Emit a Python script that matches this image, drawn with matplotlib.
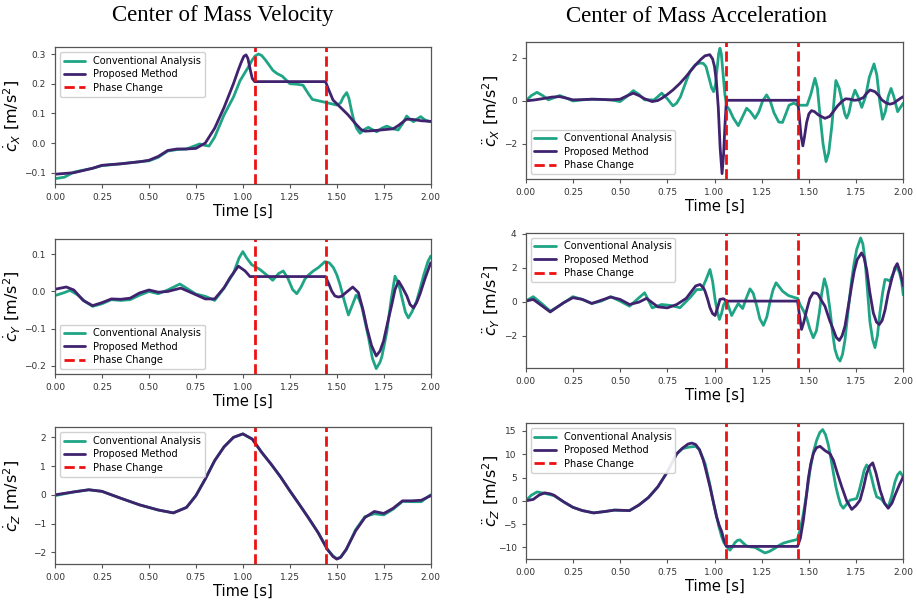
import matplotlib
matplotlib.use("Agg")
import matplotlib.pyplot as plt

# ---------------- data ----------------
phase_changes = [1.063, 1.44]
xticks = [0.0, 0.25, 0.5, 0.75, 1.0, 1.25, 1.5, 1.75, 2.0]

# Velocity X
vx_conv_t = [0, 0.05, 0.1, 0.2, 0.25, 0.35, 0.45, 0.5, 0.55, 0.6, 0.65, 0.7, 0.75, 0.77, 0.8, 0.82, 0.85, 0.9,
             0.95, 0.985, 1.03, 1.05, 1.065, 1.083, 1.1, 1.12, 1.16, 1.18, 1.21, 1.25, 1.29, 1.32, 1.35, 1.37,
             1.44, 1.5, 1.52, 1.535, 1.553, 1.565, 1.578, 1.59, 1.605, 1.624, 1.645, 1.668, 1.69, 1.713, 1.74,
             1.766, 1.8, 1.827, 1.85, 1.872, 1.89, 1.908, 1.93, 1.947, 1.965, 1.98, 2.0]
vx_conv = [-0.12, -0.115, -0.098, -0.085, -0.076, -0.070, -0.063, -0.060, -0.048, -0.027, -0.022, -0.020, -0.008,
           -0.003, -0.008, -0.010, 0.020, 0.095, 0.155, 0.21, 0.257, 0.28, 0.293, 0.300, 0.295, 0.280, 0.245,
           0.235, 0.225, 0.200, 0.198, 0.195, 0.165, 0.147, 0.137, 0.128, 0.135, 0.155, 0.170, 0.150, 0.110,
           0.078, 0.050, 0.033, 0.045, 0.053, 0.045, 0.038, 0.050, 0.057, 0.048, 0.044, 0.065, 0.091, 0.080,
           0.072, 0.082, 0.089, 0.080, 0.075, 0.072]
vx_prop_t = [0, 0.1, 0.2, 0.25, 0.35, 0.45, 0.5, 0.55, 0.6, 0.65, 0.7, 0.75, 0.8, 0.85, 0.9, 0.95, 0.975, 0.99,
             1.005, 1.017, 1.027, 1.04, 1.05, 1.063, 1.44, 1.46, 1.48, 1.52, 1.56, 1.6, 1.63, 1.65, 1.7, 1.75,
             1.8, 1.83, 1.87, 1.9, 1.95, 2.0]
vx_prop = [-0.105, -0.100, -0.085, -0.075, -0.070, -0.063, -0.058, -0.045, -0.025, -0.020, -0.020, -0.018, 0.000,
           0.050, 0.120, 0.200, 0.245, 0.270, 0.292, 0.297, 0.285, 0.245, 0.218, 0.207, 0.207, 0.175, 0.145,
           0.120, 0.095, 0.065, 0.045, 0.040, 0.042, 0.045, 0.048, 0.060, 0.080, 0.080, 0.075, 0.073]

# Velocity Y
vy_conv_t = [0, 0.05, 0.08, 0.12, 0.16, 0.2, 0.25, 0.3, 0.35, 0.4, 0.45, 0.5, 0.55, 0.6, 0.665, 0.7, 0.75, 0.8,
             0.85, 0.9, 0.95, 0.98, 1.0, 1.02, 1.047, 1.091, 1.125, 1.159, 1.19, 1.215, 1.24, 1.265, 1.287, 1.31,
             1.33, 1.349, 1.375, 1.402, 1.437, 1.46, 1.482, 1.5, 1.517, 1.54, 1.562, 1.58, 1.603, 1.618, 1.633,
             1.65, 1.669, 1.69, 1.71, 1.73, 1.74, 1.766, 1.79, 1.81, 1.83, 1.846, 1.865, 1.881, 1.9, 1.925,
             1.945, 1.964, 1.985, 2.0]
vy_conv = [-0.011, -0.003, 0.003, -0.009, -0.027, -0.040, -0.033, -0.022, -0.024, -0.022, -0.010, 0.000, -0.006,
           0.004, 0.020, 0.009, -0.007, -0.013, -0.024, 0.009, 0.049, 0.090, 0.107, 0.090, 0.072, 0.059, 0.045,
           0.030, 0.048, 0.055, 0.035, 0.005, -0.006, 0.012, 0.033, 0.044, 0.055, 0.064, 0.080, 0.077, 0.064,
           0.045, 0.019, -0.025, -0.063, -0.040, -0.010, -0.020, -0.040, -0.080, -0.124, -0.180, -0.207, -0.190,
           -0.175, -0.110, -0.020, 0.041, 0.020, -0.015, -0.055, -0.071, -0.055, -0.026, 0.010, 0.046, 0.080,
           0.095]
vy_prop_t = [0, 0.06, 0.1, 0.15, 0.2, 0.25, 0.3, 0.35, 0.4, 0.45, 0.5, 0.55, 0.6, 0.67, 0.72, 0.8, 0.85, 0.9,
             0.932, 0.976, 1.012, 1.038, 1.063, 1.44, 1.458, 1.473, 1.49, 1.508, 1.525, 1.544, 1.585, 1.615,
             1.64, 1.66, 1.685, 1.71, 1.73, 1.749, 1.77, 1.793, 1.81, 1.829, 1.85, 1.873, 1.89, 1.908, 1.925,
             1.943, 1.97, 2.0]
vy_prop = [0.006, 0.012, 0.004, -0.024, -0.038, -0.030, -0.020, -0.021, -0.018, -0.004, 0.004, -0.002, 0.000,
           0.009, -0.002, -0.020, -0.020, 0.010, 0.037, 0.068, 0.055, 0.040, 0.040, 0.040, 0.020, 0.001, -0.012,
           -0.015, -0.013, -0.005, 0.012, -0.003, -0.050, -0.097, -0.145, -0.173, -0.160, -0.133, -0.085,
           -0.035, 0.005, 0.028, 0.010, -0.012, -0.035, -0.044, -0.030, -0.007, 0.035, 0.077]

# Velocity Z
vz_t = [0, 0.1, 0.18, 0.25, 0.35, 0.45, 0.55, 0.63, 0.7, 0.75, 0.8, 0.85, 0.9, 0.95, 1.0, 1.05, 1.1, 1.15, 1.2,
        1.25, 1.3, 1.35, 1.4, 1.45, 1.48, 1.5, 1.52, 1.55, 1.6, 1.65, 1.7, 1.75, 1.8, 1.85, 1.9, 1.95, 2.0]
vz_conv = [-0.03, 0.10, 0.175, 0.12, -0.12, -0.35, -0.53, -0.63, -0.44, -0.03, 0.55, 1.19, 1.67, 2.0, 2.12, 1.94,
           1.48, 1.07, 0.63, 0.14, -0.33, -0.81, -1.31, -1.90, -2.13, -2.22, -2.18, -1.92, -1.22, -0.76, -0.66,
           -0.70, -0.50, -0.23, -0.24, -0.24, 0.00]
vz_prop = [0.0, 0.10, 0.175, 0.12, -0.12, -0.35, -0.53, -0.63, -0.44, -0.03, 0.55, 1.19, 1.67, 2.0, 2.12, 1.94,
           1.48, 1.07, 0.63, 0.14, -0.33, -0.81, -1.31, -1.90, -2.15, -2.24, -2.18, -1.90, -1.26, -0.79, -0.58,
           -0.65, -0.47, -0.21, -0.21, -0.19, -0.03]

# Acceleration X
ax_conv_t = [0, 0.03, 0.06, 0.09, 0.12, 0.15, 0.18, 0.21, 0.25, 0.3, 0.35, 0.4, 0.45, 0.5, 0.535, 0.57, 0.6, 0.63,
             0.68, 0.7, 0.72, 0.75, 0.78, 0.8, 0.82, 0.845, 0.87, 0.897, 0.92, 0.94, 0.955, 0.97, 0.985, 0.995,
             1.005, 1.015, 1.022, 1.029, 1.036, 1.045, 1.055, 1.065, 1.08, 1.1, 1.126, 1.145, 1.17, 1.19, 1.215,
             1.235, 1.255, 1.276, 1.295, 1.315, 1.34, 1.36, 1.38, 1.395, 1.42, 1.44, 1.46, 1.49, 1.51, 1.532,
             1.545, 1.558, 1.575, 1.591, 1.605, 1.621, 1.632, 1.643, 1.66, 1.675, 1.69, 1.7, 1.712, 1.725, 1.744,
             1.76, 1.78, 1.8, 1.82, 1.845, 1.86, 1.875, 1.89, 1.905, 1.92, 1.935, 1.95, 1.97, 1.985, 2.0]
ax_conv = [0.0, 0.25, 0.40, 0.25, 0.05, 0.15, 0.25, 0.15, 0.0, 0.05, 0.08, 0.07, 0.05, -0.03, 0.2, 0.48, 0.3, 0.05,
           0.05, 0.2, 0.36, 0.1, -0.23, -0.1, 0.2, 0.8, 1.37, 1.67, 1.76, 1.75, 1.6, 1.1, 0.6, 0.43, 0.75, 1.6,
           2.2, 2.45, 2.2, 1.3, 0.3, -0.25, -0.42, -0.8, -1.15, -0.8, -0.34, -0.5, -0.81, -0.5, 0.0, 0.28, 0.0,
           -0.55, -0.98, -1.0, -0.55, -0.2, -0.1, -0.2, -0.2, -0.2, 0.3, 1.05, 0.6, -0.6, -2.0, -2.82, -2.4,
           -1.2, -0.1, 0.95, 0.6, 0.0, -0.6, -0.8, -0.55, 0.0, 0.5, 0.2, -0.3, 0.2, 1.1, 1.72, 1.2, 0.0, -0.85,
           -0.5, 0.2, 0.58, 0.2, -0.5, -0.3, -0.1]
ax_prop_t = [0, 0.05, 0.1, 0.14, 0.18, 0.22, 0.25, 0.3, 0.35, 0.4, 0.45, 0.5, 0.54, 0.57, 0.6, 0.63, 0.67, 0.7,
             0.72, 0.75, 0.78, 0.815, 0.85, 0.9, 0.93, 0.95, 0.975, 0.99, 1.0, 1.01, 1.02, 1.03, 1.04, 1.048,
             1.055, 1.063, 1.44, 1.448, 1.458, 1.468, 1.476, 1.488, 1.5, 1.514, 1.53, 1.55, 1.585, 1.61, 1.629,
             1.65, 1.674, 1.695, 1.718, 1.74, 1.762, 1.789, 1.805, 1.824, 1.85, 1.87, 1.886, 1.91, 1.93, 1.95,
             1.965, 1.985, 2.0]
ax_prop = [0.0, 0.05, 0.12, 0.18, 0.2, 0.12, 0.05, 0.06, 0.08, 0.07, 0.05, 0.08, 0.25, 0.36, 0.25, 0.1, -0.03,
           0.02, 0.12, 0.3, 0.51, 0.8, 1.14, 1.68, 1.95, 2.1, 2.15, 1.95, 1.6, 0.9, -0.3, -2.2, -3.38, -2.5,
           -1.2, 0.03, 0.03, -0.6, -1.6, -2.09, -1.7, -1.0, -0.6, -0.45, -0.5, -0.65, -0.81, -0.72, -0.5, -0.25,
           -0.03, 0.1, 0.08, 0.03, 0.05, 0.16, 0.35, 0.51, 0.43, 0.25, 0.05, -0.1, -0.15, -0.1, 0.0, 0.12, 0.2]

# Acceleration Y
ay_conv_t = [0, 0.04, 0.08, 0.13, 0.18, 0.25, 0.3, 0.35, 0.4, 0.45, 0.5, 0.55, 0.58, 0.63, 0.67, 0.72, 0.77,
             0.817, 0.87, 0.906, 0.932, 0.955, 0.976, 0.99, 1.003, 1.015, 1.026, 1.037, 1.047, 1.057, 1.065,
             1.078, 1.091, 1.108, 1.126, 1.149, 1.168, 1.188, 1.205, 1.224, 1.24, 1.259, 1.277, 1.294, 1.31,
             1.326, 1.345, 1.361, 1.391, 1.426, 1.44, 1.453, 1.47, 1.488, 1.505, 1.523, 1.54, 1.555, 1.568,
             1.582, 1.596, 1.612, 1.625, 1.638, 1.652, 1.665, 1.678, 1.691, 1.708, 1.726, 1.74, 1.753, 1.774,
             1.786, 1.797, 1.81, 1.823, 1.837, 1.85, 1.863, 1.876, 1.89, 1.903, 1.915, 1.929, 1.948, 1.965,
             1.98, 1.991, 2.0]
ay_conv = [0.04, 0.3, -0.06, -0.55, -0.22, 0.3, 0.14, -0.1, 0.04, 0.3, 0.04, -0.26, 0.04, 0.53, -0.36, -0.16,
           -0.22, -0.35, 0.24, 0.72, 0.72, 1.3, 1.9, 1.2, 0.14, -0.6, -1.04, -0.7, -0.22, 0.0, 0.04, -0.4,
           -0.81, -0.45, -0.1, -0.4, 0.2, 0.76, 0.5, -0.26, -1.0, -1.39, -0.9, 0.0, 0.7, 1.12, 0.85, 0.62, 0.37,
           0.24, 0.2, -0.16, -0.5, -0.94, -1.6, -2.12, -1.7, -0.65, 0.5, 1.35, 0.8, -0.5, -1.8, -2.8, -3.3,
           -3.49, -3.1, -2.26, -0.5, 1.24, 2.3, 3.08, 3.76, 3.4, 2.49, 0.7, -1.16, -2.2, -2.7, -2.0, -0.65, 0.5,
           1.31, 1.3, 1.21, 1.7, 2.1, 1.7, 1.2, 0.4]
ay_prop_t = [0, 0.04, 0.13, 0.2, 0.25, 0.3, 0.35, 0.45, 0.5, 0.55, 0.6, 0.64, 0.7, 0.75, 0.8, 0.85, 0.9, 0.923,
             0.94, 0.95, 0.965, 0.976, 0.99, 1.003, 1.015, 1.029, 1.047, 1.065, 1.44, 1.45, 1.461, 1.473, 1.488,
             1.505, 1.523, 1.54, 1.549, 1.565, 1.585, 1.61, 1.629, 1.645, 1.661, 1.676, 1.691, 1.708, 1.726,
             1.74, 1.756, 1.779, 1.792, 1.806, 1.822, 1.841, 1.858, 1.873, 1.888, 1.903, 1.92, 1.938, 1.955,
             1.968, 1.985, 2.0]
ay_prop = [0.04, 0.14, -0.6, -0.06, 0.24, 0.14, -0.1, 0.28, 0.14, -0.16, -0.02, 0.2, -0.3, -0.36, -0.16, 0.2,
           0.93, 1.02, 0.85, 0.62, 0.1, -0.35, -0.7, -0.81, -0.4, 0.14, 0.18, 0.04, 0.04, -0.8, -1.63, -1.2,
           -0.5, 0.2, 0.53, 0.5, 0.43, 0.1, -0.26, -1.1, -1.63, -2.1, -2.28, -2.0, -1.44, -0.3, 0.92, 1.8, 2.49,
           2.88, 2.6, 1.9, 0.6, -0.65, -1.2, -1.34, -1.1, -0.5, 0.5, 1.31, 2.0, 2.25, 1.7, 0.92]

# Acceleration Z
az_conv_t = [0, 0.03, 0.06, 0.1, 0.15, 0.2, 0.25, 0.3, 0.36, 0.42, 0.47, 0.55, 0.6, 0.65, 0.7, 0.75, 0.8, 0.83,
             0.86, 0.9, 0.92, 0.95, 0.976, 0.995, 1.011, 1.025, 1.038, 1.05, 1.064, 1.082, 1.095, 1.108, 1.122,
             1.135, 1.15, 1.17, 1.19, 1.214, 1.24, 1.267, 1.29, 1.32, 1.345, 1.365, 1.39, 1.409, 1.439, 1.455,
             1.471, 1.49, 1.506, 1.524, 1.541, 1.558, 1.573, 1.588, 1.603, 1.617, 1.63, 1.643, 1.656, 1.668,
             1.682, 1.7, 1.718, 1.735, 1.753, 1.767, 1.78, 1.793, 1.806, 1.82, 1.833, 1.846, 1.859, 1.872, 1.885,
             1.902, 1.92, 1.938, 1.956, 1.97, 1.983, 2.0]
az_conv = [0.0, 1.2, 1.9, 1.6, 1.1, -0.2, -1.4, -2.1, -2.6, -2.3, -2.0, -2.1, -0.9, 0.7, 3.0, 6.2, 10.1, 11.2,
           11.5, 11.7, 11.0, 8.0, 3.4, -0.5, -3.4, -5.8, -7.7, -9.0, -9.8, -10.6, -9.9, -9.0, -8.5, -8.4, -9.0,
           -9.7, -9.9, -10.0, -10.6, -11.2, -10.9, -10.2, -9.5, -9.1, -8.8, -8.6, -8.3, -6.0, -2.7, 2.0, 6.6,
           10.5, 13.0, 14.7, 15.3, 14.2, 12.0, 9.0, 5.9, 3.0, 0.86, -0.8, -1.6, -0.7, 0.15, 0.3, 0.5, 2.3, 4.4,
           6.6, 7.7, 6.8, 4.8, 2.6, 0.86, 0.6, 0.3, -0.6, -1.4, 1.0, 4.1, 5.6, 6.2, 5.1]
az_prop_t = [0, 0.04, 0.07, 0.1, 0.13, 0.15, 0.2, 0.25, 0.3, 0.36, 0.42, 0.47, 0.55, 0.6, 0.65, 0.7, 0.75, 0.8,
             0.83, 0.86, 0.88, 0.9, 0.92, 0.94, 0.95, 0.976, 1.011, 1.025, 1.038, 1.05, 1.063, 1.44, 1.455,
             1.471, 1.485, 1.497, 1.51, 1.524, 1.54, 1.559, 1.585, 1.612, 1.63, 1.65, 1.674, 1.7, 1.727, 1.75,
             1.771, 1.79, 1.806, 1.822, 1.838, 1.855, 1.877, 1.9, 1.92, 1.94, 1.956, 1.98, 2.0]
az_prop = [0.0, 0.3, 1.2, 1.7, 1.5, 1.2, -0.2, -1.4, -2.1, -2.6, -2.3, -2.0, -2.1, -0.9, 0.7, 3.0, 6.2, 10.1,
           11.3, 12.2, 12.4, 12.1, 11.0, 8.8, 7.3, 3.0, -3.4, -5.3, -6.6, -8.5, -9.8, -9.8, -8.0, -4.1, 0.5,
           4.8, 8.0, 10.2, 11.4, 11.7, 10.8, 10.1, 8.7, 6.0, 3.0, 0.0, -1.85, -1.0, 0.15, 3.0, 5.9, 7.5, 8.15,
           6.0, 2.3, -0.5, -1.6, -0.5, 1.2, 3.5, 5.15]

panels = [
    # (col, row, conv_t, conv, prop_t, prop, ylabel, ylim, yticks, legend loc)
    (0, 0, vx_conv_t, vx_conv, vx_prop_t, vx_prop, r'$\dot{c}_X$ [m/s$^2$]', (-0.139, 0.3226),
     [-0.1, 0.0, 0.1, 0.2, 0.3], 'upper left'),
    (0, 1, vy_conv_t, vy_conv, vy_prop_t, vy_prop, r'$\dot{c}_Y$ [m/s$^2$]', (-0.2215, 0.140),
     [-0.2, -0.1, 0.0, 0.1], 'lower left'),
    (0, 2, vz_t, vz_conv, vz_t, vz_prop, r'$\dot{c}_Z$ [m/s$^2$]', (-2.42, 2.35),
     [-2, -1, 0, 1, 2], 'upper left'),
    (1, 0, ax_conv_t, ax_conv, ax_prop_t, ax_prop, r'$\ddot{c}_X$ [m/s$^2$]', (-3.63, 2.74),
     [-2, 0, 2], 'lower left'),
    (1, 1, ay_conv_t, ay_conv, ay_prop_t, ay_prop, r'$\ddot{c}_Y$ [m/s$^2$]', (-3.92, 4.07),
     [-2, 0, 2, 4], 'upper left'),
    (1, 2, az_conv_t, az_conv, az_prop_t, az_prop, r'$\ddot{c}_Z$ [m/s$^2$]', (-12.57, 16.65),
     [-10, -5, 0, 5, 10, 15], 'upper left'),
]

# ---------------- layout ----------------
W, H = 917, 600
col_x = [(55, 430.7), (525.7, 903.3)]
row_y = [[(47.3, 184.3), (239.3, 374.0), (427.3, 564.3)],
         [(42.0, 179.0), (232.7, 368.3), (423.3, 559.3)]]
ylabel_right_px = [23, 502]

GREEN = '#1fa585'
PURPLE = '#40226f'
RED = '#ee1111'
SPINE = '#555555'

fig = plt.figure(figsize=(W / 100, H / 100), dpi=100)

for col, row, ct, cv, pt, pv, ylab, ylim, yt, loc in panels:
    x0, x1 = col_x[col]
    y0, y1 = row_y[col][row]
    ax = fig.add_axes([x0 / W, 1 - y1 / H, (x1 - x0) / W, (y1 - y0) / H])
    ax.plot(ct, cv, color=GREEN, lw=2.0, label='Conventional Analysis',
            solid_joinstyle='round', solid_capstyle='round')
    ax.plot(pt, pv, color=PURPLE, lw=2.0, label='Proposed Method',
            solid_joinstyle='round', solid_capstyle='round')
    for i, pc in enumerate(phase_changes):
        ax.axvline(pc, color=RED, lw=2.0, ls='--', label='Phase Change' if i == 0 else None)
    ax.set_xlim(0, 2)
    ax.set_ylim(*ylim)
    ax.set_xticks(xticks)
    ax.set_xticklabels([f'{v:.2f}' for v in xticks])
    ax.set_yticks(yt)
    if isinstance(yt[0], float):
        ax.set_yticklabels([f'{v:.1f}'.replace('-', '\u2212') for v in yt])
    ax.tick_params(labelsize=6.5, colors='#333333', length=3, width=0.8)
    ax.tick_params(color=SPINE)
    for s in ax.spines.values():
        s.set_color(SPINE)
        s.set_linewidth(0.9)
    ax.set_xlabel('Time [s]', fontsize=10.5, labelpad=1)
    ax.set_ylabel(ylab, fontsize=11.5)
    ax.yaxis.set_label_coords((ylabel_right_px[col] - x0) / (x1 - x0), 0.5)
    ax.legend(loc=loc, fontsize=7, handlelength=2.2, framealpha=0.9, borderpad=0.4, labelspacing=0.35)

fig.text(223 / W, 1 - 16 / H, 'Center of Mass Velocity', ha='center', va='center',
         fontsize=16.5, family='Liberation Serif')
fig.text(696 / W, 1 - 16 / H, 'Center of Mass Acceleration', ha='center', va='center',
         fontsize=16.5, family='Liberation Serif')

fig.savefig('out.png', dpi=100)
